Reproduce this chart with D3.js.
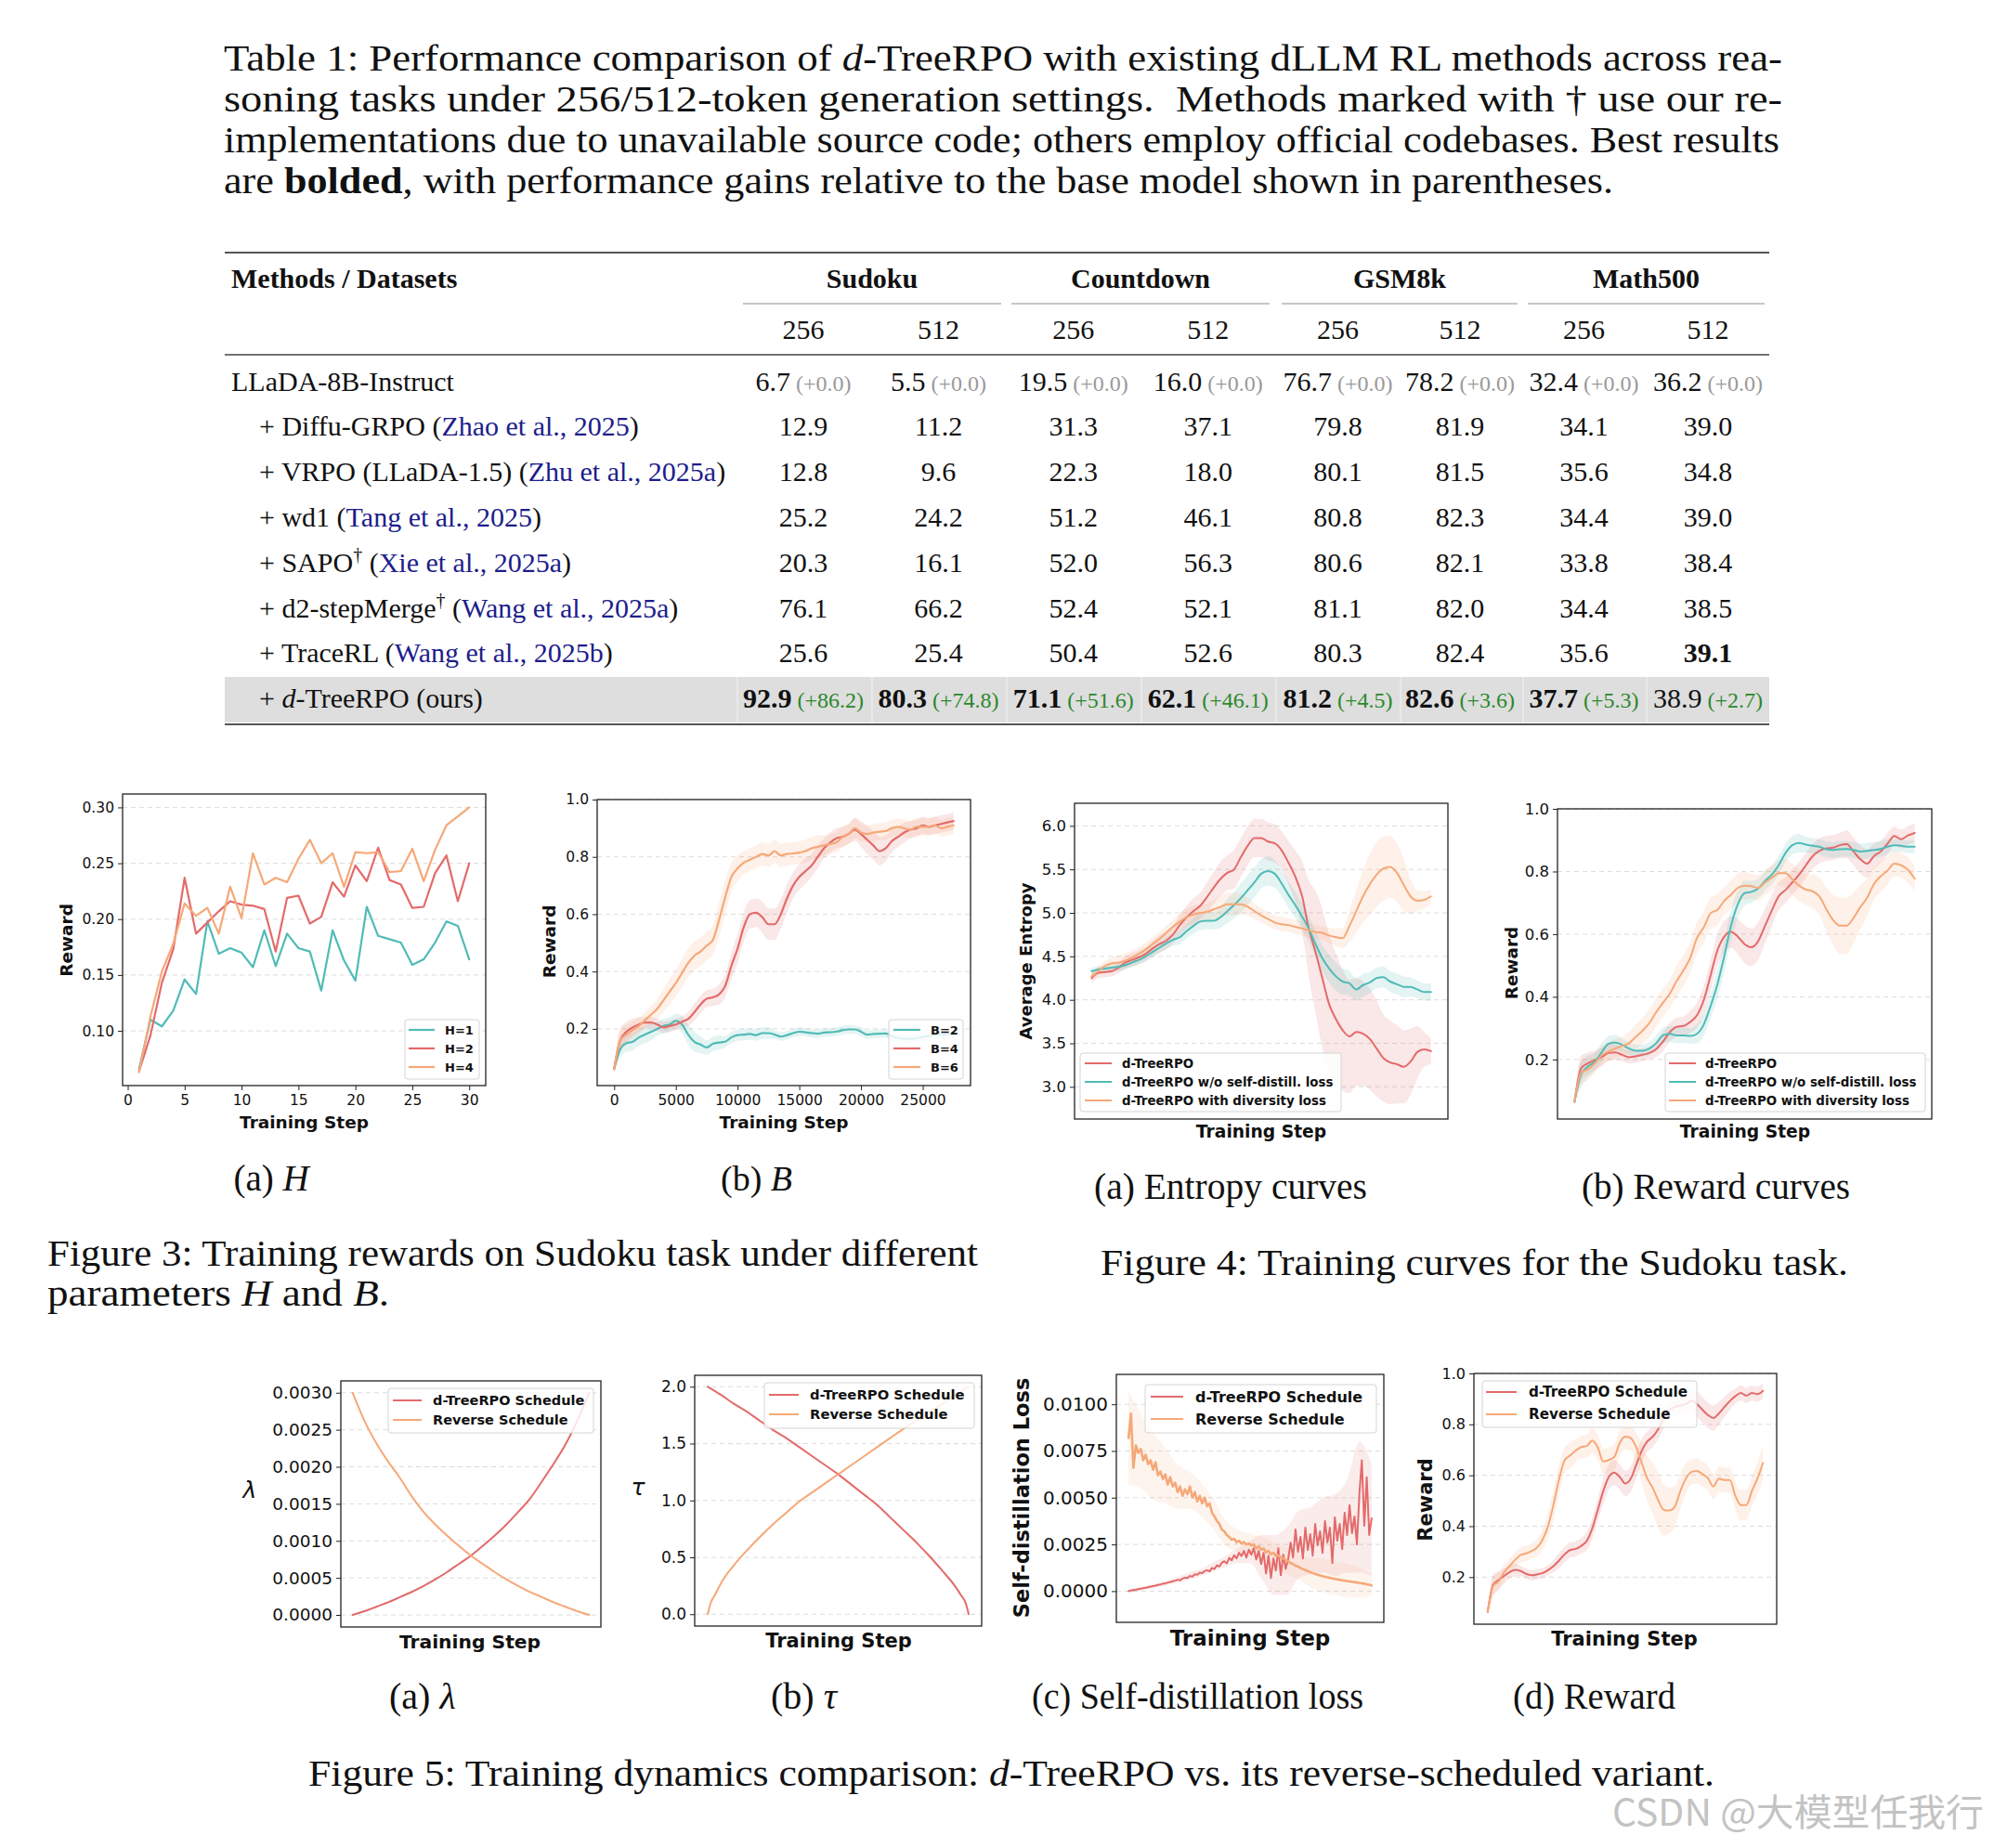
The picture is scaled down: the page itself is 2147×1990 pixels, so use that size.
<!DOCTYPE html>
<html><head><meta charset="utf-8">
<script src="https://cdn.jsdelivr.net/npm/d3@7"></script>
<style>html,body{margin:0;padding:0;background:#fff;} svg{display:block;} text{white-space:pre;}</style>
</head><body>
<svg id="page" width="2147" height="1990" xmlns="http://www.w3.org/2000/svg"></svg>
<script>
// ===================== DATA =====================
// ---- Table 1
const datasets = ["Sudoku", "Countdown", "GSM8k", "Math500"];
const genLengths = ["256", "512"];
const methods = ["LLaDA-8B-Instruct", "Diffu-GRPO", "VRPO (LLaDA-1.5)", "wd1", "SAPO", "d2-stepMerge", "TraceRL", "d-TreeRPO (ours)"];
const citations = [null, "Zhao et al., 2025", "Zhu et al., 2025a", "Tang et al., 2025", "Xie et al., 2025a", "Wang et al., 2025a", "Wang et al., 2025b", null];
const daggers = [false, false, false, false, true, true, false, false];
const sudoku256 = [6.7, 12.9, 12.8, 25.2, 20.3, 76.1, 25.6, 92.9];
const sudoku512 = [5.5, 11.2, 9.6, 24.2, 16.1, 66.2, 25.4, 80.3];
const countdown256 = [19.5, 31.3, 22.3, 51.2, 52.0, 52.4, 50.4, 71.1];
const countdown512 = [16.0, 37.1, 18.0, 46.1, 56.3, 52.1, 52.6, 62.1];
const gsm256 = [76.7, 79.8, 80.1, 80.8, 80.6, 81.1, 80.3, 81.2];
const gsm512 = [78.2, 81.9, 81.5, 82.3, 82.1, 82.0, 82.4, 82.6];
const math256 = [32.4, 34.1, 35.6, 34.4, 33.8, 34.4, 35.6, 37.7];
const math512 = [36.2, 39.0, 34.8, 39.0, 38.4, 38.5, 39.1, 38.9];
const baseGains = ["+0.0", "+0.0", "+0.0", "+0.0", "+0.0", "+0.0", "+0.0", "+0.0"];
const oursGains = ["+86.2", "+74.8", "+51.6", "+46.1", "+4.5", "+3.6", "+5.3", "+2.7"];

// ---- Figure 3a (H)
const stepsH = d3.range(1, 31);
const rewardH1 = [0.066,0.110,0.104,0.118,0.146,0.133,0.198,0.169,0.174,0.170,0.157,0.190,0.158,0.187,0.174,0.171,0.136,0.190,0.163,0.145,0.211,0.185,0.182,0.179,0.159,0.164,0.179,0.198,0.194,0.164];
const rewardH2 = [0.064,0.096,0.143,0.173,0.237,0.187,0.197,0.207,0.216,0.213,0.212,0.209,0.171,0.219,0.221,0.196,0.202,0.233,0.220,0.248,0.234,0.264,0.235,0.231,0.210,0.211,0.241,0.257,0.216,0.250];
const rewardH4 = [0.063,0.113,0.153,0.178,0.214,0.203,0.210,0.187,0.229,0.201,0.259,0.231,0.237,0.233,0.254,0.271,0.250,0.259,0.229,0.260,0.259,0.260,0.242,0.243,0.263,0.234,0.262,0.284,0.292,0.300];
const ticksH_y = [0.10, 0.15, 0.20, 0.25, 0.30];
const ticksH_x = [0, 5, 10, 15, 20, 25, 30];
const legendH = ["H=1", "H=2", "H=4"];

// ---- Figure 3b (B)
const stepsB = d3.range(0, 27501, 500);
const rewardB2 = [0.06,0.13,0.15,0.155,0.17,0.18,0.19,0.20,0.21,0.215,
  0.228,0.215,0.18,0.155,0.145,0.135,0.148,0.152,0.155,0.17,
  0.178,0.18,0.182,0.178,0.185,0.185,0.18,0.173,0.178,0.185,
  0.19,0.188,0.185,0.183,0.187,0.188,0.19,0.195,0.198,0.198,
  0.19,0.18,0.182,0.183,0.184,0.175,0.168,0.165,0.165,0.168,
  0.172,0.175,0.178,0.18,0.18,0.182];
const spreadB2 = [0.01,0.03,0.03,0.03,0.03,0.03,0.03,0.025,0.025,0.025,
  0.025,0.03,0.035,0.035,0.03,0.025,0.025,0.025,0.02,0.02,
  0.02,0.02,0.02,0.02,0.02,0.02,0.015,0.015,0.015,0.015,
  0.015,0.015,0.015,0.015,0.015,0.015,0.015,0.015,0.015,0.015,
  0.015,0.015,0.015,0.015,0.015,0.015,0.015,0.015,0.015,0.015,
  0.015,0.015,0.015,0.015,0.015,0.015];
const rewardB4 = [0.06,0.16,0.19,0.205,0.215,0.222,0.222,0.215,0.205,0.21,
  0.215,0.225,0.235,0.258,0.285,0.305,0.31,0.32,0.35,0.42,
  0.48,0.555,0.6,0.605,0.59,0.565,0.565,0.6,0.655,0.7,
  0.73,0.75,0.77,0.8,0.83,0.85,0.865,0.87,0.88,0.895,
  0.88,0.86,0.84,0.82,0.83,0.855,0.87,0.885,0.895,0.9,
  0.91,0.905,0.91,0.915,0.92,0.925];
const spreadB4 = [0.01,0.04,0.035,0.03,0.025,0.02,0.02,0.02,0.02,0.02,
  0.02,0.02,0.025,0.03,0.03,0.03,0.03,0.035,0.04,0.045,
  0.05,0.05,0.05,0.05,0.055,0.055,0.055,0.05,0.05,0.045,
  0.045,0.045,0.04,0.04,0.035,0.035,0.035,0.035,0.035,0.04,
  0.045,0.05,0.05,0.05,0.045,0.04,0.035,0.035,0.03,0.03,
  0.03,0.03,0.03,0.03,0.03,0.03];
const rewardB6 = [0.06,0.16,0.18,0.195,0.21,0.23,0.25,0.27,0.30,0.33,
  0.36,0.395,0.43,0.455,0.47,0.49,0.51,0.58,0.66,0.73,
  0.76,0.78,0.79,0.80,0.81,0.805,0.82,0.805,0.81,0.812,
  0.815,0.82,0.83,0.835,0.84,0.845,0.85,0.87,0.88,0.9,
  0.885,0.88,0.885,0.888,0.89,0.9,0.905,0.9,0.895,0.905,
  0.905,0.905,0.91,0.9,0.905,0.91];
const spreadB6 = [0.01,0.04,0.035,0.03,0.03,0.03,0.03,0.035,0.04,0.045,
  0.045,0.05,0.05,0.05,0.05,0.05,0.05,0.06,0.06,0.05,
  0.045,0.04,0.04,0.04,0.04,0.04,0.04,0.04,0.04,0.04,
  0.04,0.04,0.04,0.04,0.035,0.035,0.035,0.035,0.035,0.035,
  0.03,0.03,0.03,0.03,0.03,0.03,0.03,0.03,0.03,0.03,
  0.03,0.03,0.03,0.03,0.03,0.03];
const ticksB_y = [0.2, 0.4, 0.6, 0.8, 1.0];
const ticksB_x = [0, 5000, 10000, 15000, 20000, 25000];
const legendB = ["B=2", "B=4", "B=6"];

// ---- Figure 4 (normalized training step 0..100)
const steps4 = d3.range(0, 101, 2);
const legend4 = ["d-TreeRPO", "d-TreeRPO w/o self-distill. loss", "d-TreeRPO with diversity loss"];
const entropyTree = [4.25,4.31,4.32,4.33,4.37,4.43,4.46,4.49,4.53,4.59,
  4.64,4.68,4.75,4.86,4.95,5.02,5.08,5.18,5.29,5.39,
  5.46,5.50,5.64,5.77,5.86,5.86,5.82,5.80,5.72,5.58,
  5.42,5.20,4.82,4.55,4.25,3.95,3.78,3.65,3.58,3.63,
  3.61,3.55,3.44,3.33,3.28,3.26,3.23,3.29,3.40,3.43,
  3.41];
const entropyTreeSd = [0.06,0.06,0.06,0.06,0.06,0.07,0.08,0.08,0.08,0.09,
  0.1,0.1,0.1,0.12,0.13,0.15,0.15,0.17,0.18,0.2,
  0.2,0.22,0.22,0.22,0.22,0.22,0.22,0.22,0.22,0.25,
  0.3,0.4,0.55,0.7,0.8,0.8,0.75,0.7,0.65,0.62,
  0.6,0.58,0.55,0.5,0.48,0.45,0.42,0.38,0.3,0.2,
  0.15];
const entropyNoSD = [4.33,4.35,4.36,4.37,4.38,4.40,4.43,4.46,4.50,4.55,
  4.60,4.65,4.69,4.72,4.79,4.85,4.90,4.91,4.91,4.95,
  5.02,5.09,5.17,5.26,5.35,5.45,5.48,5.45,5.34,5.21,
  5.09,4.96,4.82,4.64,4.48,4.36,4.27,4.21,4.19,4.12,
  4.17,4.20,4.25,4.26,4.21,4.18,4.15,4.15,4.12,4.09,
  4.09];
const entropyNoSDSd = [0.04,0.04,0.04,0.04,0.05,0.05,0.05,0.05,0.06,0.06,
  0.06,0.07,0.07,0.08,0.08,0.09,0.1,0.1,0.1,0.12,
  0.14,0.15,0.17,0.17,0.17,0.17,0.17,0.16,0.15,0.15,
  0.15,0.15,0.15,0.15,0.15,0.16,0.16,0.15,0.14,0.13,
  0.13,0.12,0.12,0.12,0.12,0.12,0.12,0.11,0.1,0.1,
  0.1];
const entropyDiv = [4.27,4.33,4.39,4.42,4.43,4.45,4.49,4.53,4.58,4.64,
  4.70,4.77,4.84,4.90,4.95,4.98,5.00,5.01,5.04,5.07,
  5.10,5.10,5.10,5.07,5.02,4.97,4.93,4.89,4.87,4.86,
  4.84,4.82,4.80,4.78,4.77,4.74,4.72,4.71,4.85,5.02,
  5.19,5.33,5.44,5.51,5.53,5.46,5.32,5.19,5.14,5.15,
  5.19];
const entropyDivSd = [0.04,0.05,0.06,0.07,0.08,0.08,0.08,0.08,0.08,0.08,
  0.08,0.08,0.08,0.1,0.1,0.1,0.1,0.1,0.11,0.12,
  0.13,0.13,0.12,0.1,0.09,0.08,0.08,0.08,0.08,0.08,
  0.08,0.08,0.08,0.08,0.08,0.09,0.1,0.12,0.18,0.25,
  0.3,0.35,0.37,0.37,0.36,0.34,0.3,0.2,0.12,0.1,
  0.08];
const ticksEnt = [3.0, 3.5, 4.0, 4.5, 5.0, 5.5, 6.0];

const rewardTree = [0.065,0.173,0.188,0.198,0.208,0.221,0.223,0.215,0.207,0.21,
  0.215,0.221,0.233,0.257,0.287,0.304,0.307,0.32,0.341,0.39,
  0.469,0.548,0.592,0.607,0.592,0.568,0.558,0.578,0.627,0.676,
  0.721,0.741,0.765,0.79,0.82,0.849,0.866,0.874,0.876,0.884,
  0.887,0.864,0.839,0.825,0.849,0.864,0.889,0.913,0.903,0.915,
  0.923];
const rewardTreeSd = [0.01,0.04,0.035,0.03,0.03,0.025,0.025,0.02,0.02,0.02,
  0.02,0.02,0.025,0.03,0.03,0.03,0.03,0.035,0.04,0.045,
  0.05,0.05,0.05,0.05,0.055,0.06,0.06,0.06,0.055,0.05,
  0.045,0.04,0.04,0.04,0.04,0.04,0.04,0.04,0.04,0.04,
  0.045,0.045,0.045,0.045,0.04,0.035,0.035,0.03,0.03,0.03,
  0.03];
const rewardNoSD = [0.065,0.154,0.178,0.193,0.223,0.25,0.254,0.247,0.235,0.228,
  0.228,0.235,0.252,0.277,0.282,0.277,0.277,0.275,0.282,0.312,
  0.371,0.44,0.529,0.627,0.696,0.731,0.735,0.746,0.77,0.79,
  0.82,0.859,0.884,0.891,0.886,0.882,0.879,0.871,0.869,0.871,
  0.872,0.869,0.864,0.866,0.869,0.872,0.879,0.884,0.882,0.879,
  0.879];
const rewardNoSDSd = [0.01,0.04,0.035,0.03,0.03,0.025,0.025,0.02,0.02,0.02,
  0.02,0.02,0.025,0.025,0.025,0.025,0.025,0.025,0.03,0.035,
  0.04,0.045,0.05,0.05,0.045,0.04,0.035,0.03,0.03,0.03,
  0.03,0.03,0.03,0.03,0.025,0.025,0.025,0.025,0.025,0.025,
  0.025,0.025,0.025,0.025,0.025,0.025,0.025,0.02,0.02,0.02,
  0.02];
const rewardDiv = [0.065,0.159,0.169,0.188,0.213,0.225,0.235,0.243,0.252,0.272,
  0.292,0.316,0.351,0.381,0.41,0.45,0.484,0.524,0.588,0.622,
  0.667,0.678,0.706,0.726,0.748,0.755,0.753,0.748,0.765,0.78,
  0.795,0.795,0.775,0.755,0.742,0.737,0.72,0.68,0.645,0.627,
  0.627,0.652,0.686,0.716,0.76,0.785,0.803,0.825,0.82,0.805,
  0.777];
const rewardDivSd = [0.01,0.04,0.035,0.03,0.03,0.03,0.03,0.03,0.035,0.04,
  0.04,0.045,0.045,0.045,0.045,0.05,0.05,0.05,0.05,0.05,
  0.05,0.05,0.045,0.045,0.045,0.045,0.04,0.04,0.04,0.04,
  0.04,0.045,0.05,0.05,0.05,0.055,0.06,0.07,0.08,0.09,
  0.09,0.08,0.07,0.06,0.05,0.05,0.045,0.04,0.04,0.04,
  0.04];
const ticksReward = [0.2, 0.4, 0.6, 0.8, 1.0];

// ---- Figure 5
const legend5 = ["d-TreeRPO Schedule", "Reverse Schedule"];
const tLam = d3.range(21).map(i => i / 20);
const lambdaTree = [0,0.00005,0.00011,0.00017,0.00024,0.00031,0.00039,0.00048,0.00058,0.00069,0.00080,0.00093,0.00107,0.00122,0.00139,0.00157,0.00180,0.00204,0.00230,0.00262,0.00300];
const lambdaRev = [0.00300,0.00262,0.00232,0.00207,0.00185,0.00160,0.00139,0.00122,0.00107,0.00093,0.00080,0.00069,0.00058,0.00048,0.00039,0.00031,0.00024,0.00017,0.00011,0.00005,0];
const ticksLam = [0, 0.0005, 0.0010, 0.0015, 0.0020, 0.0025, 0.0030];

const tTau = [0,0.05,0.1,0.15,0.2,0.25,0.3,0.35,0.4,0.45,0.5,0.55,0.6,0.65,0.7,0.75,0.8,0.85,0.9,0.95,0.97,0.99,1.0];
const tauTree = [2.00,1.93,1.85,1.78,1.70,1.62,1.55,1.47,1.39,1.31,1.23,1.14,1.05,0.96,0.85,0.74,0.63,0.51,0.38,0.24,0.17,0.09,0.00];
const tTauRev = [0,0.01,0.03,0.05,0.1,0.15,0.2,0.25,0.3,0.35,0.4,0.45,0.5,0.55,0.6,0.65,0.7,0.75,0.8,0.85,0.9,0.95,1.0];
const tauRev = [0.00,0.09,0.18,0.27,0.43,0.56,0.68,0.79,0.89,0.99,1.07,1.15,1.23,1.31,1.39,1.47,1.55,1.63,1.70,1.78,1.85,1.93,2.00];
const ticksTau = [0.0, 0.5, 1.0, 1.5, 2.0];

const tLoss = d3.range(100).map(i => i / 99);
const lossTree = [0.00000,0.00003,0.00006,0.00008,0.00011,0.00013,0.00016,0.00018,0.00021,0.00024,
  0.00027,0.00029,0.00033,0.00035,0.00040,0.00041,0.00046,0.00049,0.00053,0.00056,
  0.00061,0.00058,0.00067,0.00072,0.00070,0.00081,0.00078,0.00090,0.00088,0.00099,
  0.00096,0.00108,0.00112,0.00106,0.00124,0.00119,0.00138,0.00132,0.00152,0.00160,
  0.00148,0.00178,0.00165,0.00192,0.00175,0.00205,0.00188,0.00215,0.00180,0.00222,
  0.00195,0.00230,0.00170,0.00215,0.00145,0.00205,0.00095,0.00190,0.00070,0.00175,
  0.00110,0.00230,0.00085,0.00195,0.00120,0.00170,0.00260,0.00180,0.00330,0.00210,
  0.00290,0.00175,0.00340,0.00220,0.00305,0.00190,0.00360,0.00245,0.00320,0.00205,
  0.00375,0.00260,0.00340,0.00150,0.00395,0.00270,0.00360,0.00225,0.00420,0.00300,
  0.00460,0.00310,0.00400,0.00250,0.00520,0.00700,0.00350,0.00610,0.00300,0.00390];
const lossRev = [0.00820,0.00950,0.00660,0.00780,0.00740,0.00760,0.00700,0.00730,0.00680,0.00700,
  0.00650,0.00690,0.00620,0.00640,0.00600,0.00625,0.00570,0.00610,0.00560,0.00580,
  0.00530,0.00560,0.00510,0.00545,0.00520,0.00560,0.00500,0.00530,0.00480,0.00510,
  0.00470,0.00500,0.00455,0.00470,0.00420,0.00400,0.00375,0.00360,0.00330,0.00320,
  0.00300,0.00290,0.00275,0.00280,0.00262,0.00270,0.00255,0.00262,0.00250,0.00255,
  0.00245,0.00250,0.00230,0.00240,0.00222,0.00228,0.00208,0.00215,0.00198,0.00205,
  0.00188,0.00192,0.00180,0.00176,0.00166,0.00160,0.00150,0.00145,0.00136,0.00132,
  0.00124,0.00118,0.00112,0.00108,0.00101,0.00097,0.00092,0.00088,0.00084,0.00080,
  0.00077,0.00074,0.00071,0.00068,0.00066,0.00063,0.00061,0.00058,0.00056,0.00054,
  0.00052,0.00050,0.00048,0.00046,0.00044,0.00042,0.00040,0.00037,0.00034,0.00031];
const tLossBand = d3.range(21).map(i => i / 20);
const lossTreeBandMid = [0,0.00013,0.00027,0.00041,0.0006,0.0008,0.001,0.0013,0.0016,0.0019,0.0021,0.0018,0.0014,0.0016,0.0025,0.0027,0.003,0.003,0.0035,0.0045,0.0038];
const lossTreeBandSd = [0.0001,0.0001,0.0001,0.00012,0.00015,0.0002,0.0002,0.00025,0.0003,0.0004,0.0006,0.0012,0.0016,0.0018,0.0018,0.0018,0.002,0.0022,0.0025,0.0035,0.003];
const lossRevBandMid = [0.0082,0.0075,0.0067,0.0062,0.0056,0.0054,0.0049,0.0041,0.0031,0.0027,0.0025,0.0023,0.0019,0.0016,0.0013,0.001,0.00085,0.0007,0.00057,0.00045,0.00032];
const lossRevBandSd = [0.0025,0.002,0.0018,0.0015,0.0012,0.001,0.0009,0.0008,0.0007,0.0006,0.0006,0.0006,0.0007,0.0007,0.0007,0.0008,0.0009,0.0009,0.0009,0.0008,0.0006];
const ticksLoss = [0, 0.0025, 0.0050, 0.0075, 0.0100];

const reward5Tree = [0.063,0.17,0.189,0.205,0.22,0.228,0.224,0.213,0.207,0.211,
  0.216,0.228,0.244,0.266,0.29,0.307,0.311,0.323,0.342,0.391,
  0.464,0.538,0.593,0.611,0.593,0.568,0.587,0.642,0.697,0.733,
  0.752,0.782,0.825,0.856,0.868,0.874,0.88,0.892,0.88,0.858,
  0.837,0.825,0.843,0.868,0.892,0.911,0.923,0.913,0.923,0.919,
  0.932];
const reward5TreeSd = [0.01,0.04,0.035,0.03,0.025,0.025,0.02,0.02,0.02,0.02,
  0.02,0.02,0.025,0.03,0.03,0.03,0.03,0.03,0.035,0.04,
  0.045,0.05,0.05,0.05,0.05,0.05,0.05,0.05,0.045,0.04,
  0.04,0.04,0.04,0.04,0.04,0.04,0.04,0.045,0.05,0.05,
  0.05,0.05,0.045,0.04,0.035,0.03,0.03,0.03,0.03,0.03,
  0.03];
const reward5Rev = [0.063,0.165,0.183,0.22,0.244,0.268,0.287,0.293,0.303,0.317,
  0.348,0.403,0.489,0.587,0.66,0.678,0.697,0.711,0.715,0.736,
  0.709,0.654,0.66,0.672,0.727,0.752,0.746,0.709,0.648,0.587,
  0.55,0.501,0.464,0.462,0.477,0.538,0.587,0.613,0.617,0.605,
  0.589,0.556,0.587,0.581,0.581,0.519,0.483,0.483,0.538,0.587,
  0.648];
const reward5RevSd = [0.01,0.04,0.035,0.03,0.03,0.03,0.03,0.03,0.03,0.035,
  0.04,0.05,0.06,0.06,0.05,0.05,0.045,0.045,0.045,0.05,
  0.05,0.05,0.05,0.05,0.05,0.05,0.05,0.06,0.08,0.09,
  0.1,0.11,0.1,0.09,0.08,0.07,0.06,0.05,0.05,0.05,
  0.05,0.05,0.05,0.05,0.05,0.055,0.06,0.06,0.06,0.065,
  0.07];

// ===================== STYLE / HELPERS =====================
const SERIF = "'Liberation Serif', 'DejaVu Serif', serif";
const SANS = "'DejaVu Sans', sans-serif";
const TEAL = "#50bbb6", RED = "#e36a6a", ORANGE = "#f6a878";
const svg = d3.select("#page");
svg.append("rect").attr("width", 2147).attr("height", 1990).attr("fill", "#fff");

function textLine(parts, x, y, len, size, anchor) {
  const t = svg.append("text").attr("x", x).attr("y", y)
    .attr("font-family", SERIF).attr("font-size", size).attr("fill", "#111");
  if (anchor) t.attr("text-anchor", anchor);
  if (len) t.attr("textLength", len).attr("lengthAdjust", "spacingAndGlyphs");
  parts.forEach(p => {
    const s = t.append("tspan").text(p.t);
    if (p.i) s.attr("font-style", "italic");
    if (p.b) s.attr("font-weight", "bold");
  });
  return t;
}

// ===================== TABLE CAPTION =====================
textLine([{t:"Table 1: Performance comparison of "},{t:"d",i:1},{t:"-TreeRPO with existing dLLM RL methods across rea-"}], 241, 76, 1678, 40);
textLine([{t:"soning tasks under 256/512-token generation settings.  Methods marked with \u2020 use our re-"}], 241, 120, 1678, 40);
textLine([{t:"implementations due to unavailable source code; others employ official codebases. Best results"}], 241, 164, 1675, 40);
textLine([{t:"are "},{t:"bolded",b:1},{t:", with performance gains relative to the base model shown in parentheses."}], 241, 208, 1496, 40);

// ===================== TABLE =====================
(function drawTable() {
  const g = svg.append("g").attr("font-family", SERIF).attr("fill", "#111");
  const colX = [865, 1010.5, 1155.7, 1300.8, 1440.5, 1572, 1705.5, 1839];
  const groupRules = [[800, 1078], [1089, 1367], [1380, 1634], [1645, 1900]];
  const rowY = r => 420.5 + r * 48.8;
  const columns = [sudoku256, sudoku512, countdown256, countdown512, gsm256, gsm512, math256, math512];
  const fmt = d3.format(".1f");

  g.append("rect").attr("x", 242).attr("y", 729).attr("width", 1663).attr("height", 49).attr("fill", "#dedede");
  [794, 939, 1084, 1229, 1374, 1508, 1640, 1773].forEach(xx =>
    g.append("line").attr("x1", xx).attr("x2", xx).attr("y1", 729).attr("y2", 778).attr("stroke", "#ececec").attr("stroke-width", 1.5));

  g.append("line").attr("x1", 242).attr("x2", 1905).attr("y1", 272).attr("y2", 272).attr("stroke", "#555").attr("stroke-width", 2);
  g.append("line").attr("x1", 242).attr("x2", 1905).attr("y1", 382).attr("y2", 382).attr("stroke", "#444").attr("stroke-width", 1.3);
  g.append("line").attr("x1", 242).attr("x2", 1905).attr("y1", 780).attr("y2", 780).attr("stroke", "#555").attr("stroke-width", 2);
  groupRules.forEach(r => g.append("line").attr("x1", r[0]).attr("x2", r[1]).attr("y1", 327).attr("y2", 327).attr("stroke", "#b5b5b5").attr("stroke-width", 1.6));

  g.append("text").attr("x", 249).attr("y", 310).attr("font-size", 30).attr("font-weight", "bold").text("Methods / Datasets");
  datasets.forEach((d, i) => g.append("text").attr("x", (groupRules[i][0] + groupRules[i][1]) / 2).attr("y", 310)
    .attr("text-anchor", "middle").attr("font-size", 30).attr("font-weight", "bold").text(d));
  colX.forEach((x, i) => g.append("text").attr("x", x).attr("y", 365).attr("text-anchor", "middle")
    .attr("font-size", 30).text(genLengths[i % 2]));

  methods.forEach((m, r) => {
    const t = g.append("text").attr("x", r === 0 ? 249 : 279).attr("y", rowY(r)).attr("font-size", 30);
    if (r === 0) { t.text(m); return; }
    t.append("tspan").text("+ ");
    if (m.startsWith("d-")) {
      t.append("tspan").attr("font-style", "italic").text("d");
      t.append("tspan").text(m.slice(1));
    } else {
      t.append("tspan").text(m);
    }
    let shift = false;
    if (daggers[r]) {
      t.append("tspan").attr("dy", -12).attr("font-size", 20).text("\u2020");
      shift = true;
    }
    if (citations[r]) {
      t.append("tspan").attr("dy", shift ? 12 : null).text(" (");
      t.append("tspan").attr("fill", "#1d1d8c").text(citations[r]);
      t.append("tspan").text(")");
    }
  });

  columns.forEach((col, c) => {
    const best = d3.max(col);
    col.forEach((v, r) => {
      const t = g.append("text").attr("x", colX[c]).attr("y", rowY(r)).attr("text-anchor", "middle").attr("font-size", 30);
      t.append("tspan").attr("font-weight", v === best ? "bold" : null).text(fmt(v));
      if (r === 0) t.append("tspan").attr("font-size", 24).attr("fill", "#999").text(" (" + baseGains[c] + ")");
      if (r === methods.length - 1) t.append("tspan").attr("font-size", 24).attr("fill", "#2b882b").text(" (" + oursGains[c] + ")");
    });
  });
})();

// ===================== CHART HELPER =====================
let clipCounter = 0;
function plot(o) {
  const g = svg.append("g");
  const x = d3.scaleLinear().domain(o.xd).range([o.L, o.R]);
  const y = d3.scaleLinear().domain(o.yd).range([o.B, o.T]);
  const cid = "clip" + (clipCounter++);
  svg.append("clipPath").attr("id", cid).append("rect")
    .attr("x", o.L).attr("y", o.T).attr("width", o.R - o.L).attr("height", o.B - o.T);
  g.append("g").selectAll("line").data(o.yt).join("line")
    .attr("x1", o.L).attr("x2", o.R).attr("y1", d => y(d)).attr("y2", d => y(d))
    .attr("stroke", "#dcdcdc").attr("stroke-width", 1).attr("stroke-dasharray", "5,4");
  const inner = g.append("g").attr("clip-path", `url(#${cid})`);
  const curve = o.curve || d3.curveMonotoneX;
  o.series.forEach(s => {
    const bx = s.bx || s.x, by = s.by || s.y, bs = s.bs || s.sd;
    if (!bs) return;
    const pts = by.map((v, i) => [bx[i], v, bs[i]]);
    inner.append("path").datum(pts)
      .attr("d", d3.area().x(d => x(d[0])).y0(d => y(d[1] - d[2])).y1(d => y(d[1] + d[2])).curve(d3.curveMonotoneX))
      .attr("fill", s.c).attr("fill-opacity", s.bo || 0.16).attr("stroke", "none");
  });
  o.series.forEach(s => {
    const pts = s.y.map((v, i) => [s.x[i], v]);
    inner.append("path").datum(pts)
      .attr("d", d3.line().x(d => x(d[0])).y(d => y(d[1])).curve(s.curve || curve))
      .attr("fill", "none").attr("stroke", s.c).attr("stroke-width", s.lw || o.lw || 2.2)
      .attr("stroke-linejoin", "round").attr("stroke-linecap", "round");
  });
  const ya = g.append("g").attr("transform", `translate(${o.L},0)`)
    .call(d3.axisLeft(y).tickValues(o.yt).tickFormat(o.yf).tickSize(5).tickPadding(4));
  ya.attr("font-family", SANS).attr("font-size", o.fs);
  ya.select(".domain").remove();
  ya.selectAll("line").attr("stroke", "#222");
  ya.selectAll("text").attr("fill", "#111");
  if (o.xt) {
    const xa = g.append("g").attr("transform", `translate(0,${o.B})`)
      .call(d3.axisBottom(x).tickValues(o.xt).tickFormat(o.xf).tickSize(5).tickPadding(5));
    xa.attr("font-family", SANS).attr("font-size", o.fs);
    xa.select(".domain").remove();
    xa.selectAll("line").attr("stroke", "#222");
    xa.selectAll("text").attr("fill", "#111");
  }
  g.append("rect").attr("x", o.L).attr("y", o.T).attr("width", o.R - o.L).attr("height", o.B - o.T)
    .attr("fill", "none").attr("stroke", "#222").attr("stroke-width", 1.3);
  if (o.leg) {
    const l = o.leg;
    const lg = g.append("g");
    lg.append("rect").attr("x", l.x).attr("y", l.y).attr("width", l.w).attr("height", l.h).attr("rx", 3)
      .attr("fill", "#fff").attr("fill-opacity", 0.82).attr("stroke", "#d4d4d4").attr("stroke-width", 1);
    l.labels.forEach((lab, i) => {
      const yy = l.rows[i];
      lg.append("line").attr("x1", l.lx0).attr("x2", l.lx1).attr("y1", yy).attr("y2", yy)
        .attr("stroke", o.series[i].c).attr("stroke-width", o.lw || 2.2);
      lg.append("text").attr("x", l.tx).attr("y", yy).attr("dy", "0.36em")
        .attr("font-family", SANS).attr("font-weight", "bold").attr("font-size", l.fs).attr("fill", "#111").text(lab);
    });
  }
  if (o.xl) svg.append("text").attr("x", o.xl.x).attr("y", o.xl.y).attr("text-anchor", "middle")
    .attr("font-family", SANS).attr("font-weight", "bold").attr("font-size", o.xl.fs).attr("fill", "#111").text(o.xl.t);
  if (o.yl) {
    const t = svg.append("text").attr("text-anchor", "middle").attr("fill", "#111").text(o.yl.t)
      .attr("font-size", o.yl.fs);
    if (o.yl.upright) {
      t.attr("x", o.yl.x).attr("y", o.yl.y).attr("font-family", SANS).attr("font-style", "italic");
    } else {
      t.attr("transform", `translate(${o.yl.x},${o.yl.y}) rotate(-90)`).attr("font-family", SANS).attr("font-weight", "bold");
    }
  }
}

// ===================== FIGURE 3 =====================
plot({L:132, R:523, T:855, B:1169, xd:[-0.45, 31.45], yd:[0.051, 0.312],
  yt:ticksH_y, yf:d3.format(".2f"), xt:ticksH_x, xf:d3.format("d"), fs:15.5, lw:2.2, curve:d3.curveLinear,
  series:[{x:stepsH, y:rewardH1, c:TEAL}, {x:stepsH, y:rewardH2, c:RED}, {x:stepsH, y:rewardH4, c:ORANGE}],
  leg:{x:436, y:1098, w:80, h:64, rows:[1109, 1129, 1149], lx0:440, lx1:468, tx:479, fs:13, labels:legendH},
  xl:{t:"Training Step", x:327.5, y:1215, fs:18.5}, yl:{t:"Reward", x:78, y:1012.5, fs:18.5}});

plot({L:643, R:1045, T:861, B:1169, xd:[-1375, 28875], yd:[0.002, 1.0],
  yt:ticksB_y, yf:d3.format(".1f"), xt:ticksB_x, xf:d3.format("d"), fs:15.5, lw:2.2,
  series:[{x:stepsB, y:rewardB2, sd:spreadB2, c:TEAL}, {x:stepsB, y:rewardB4, sd:spreadB4, c:RED}, {x:stepsB, y:rewardB6, sd:spreadB6, c:ORANGE}],
  leg:{x:957, y:1098, w:80, h:64, rows:[1109, 1129, 1149], lx0:962, lx1:991, tx:1002, fs:13, labels:legendB},
  xl:{t:"Training Step", x:844, y:1215, fs:18.5}, yl:{t:"Reward", x:598, y:1014, fs:18.5}});

// ===================== FIGURE 4 =====================
plot({L:1157, R:1559, T:865, B:1205, xd:[-5, 105], yd:[2.63, 6.26],
  yt:ticksEnt, yf:d3.format(".1f"), fs:16.5, lw:2,
  series:[{x:steps4, y:entropyTree, sd:entropyTreeSd, c:RED}, {x:steps4, y:entropyNoSD, sd:entropyNoSDSd, c:TEAL}, {x:steps4, y:entropyDiv, sd:entropyDivSd, c:ORANGE}],
  leg:{x:1163, y:1134, w:281, h:63, rows:[1145, 1165, 1185], lx0:1168, lx1:1197, tx:1208, fs:13.4, labels:legend4},
  xl:{t:"Training Step", x:1358, y:1225, fs:18.7}, yl:{t:"Average Entropy", x:1111, y:1035, fs:18}});

plot({L:1677, R:2080, T:871, B:1205, xd:[-5, 105], yd:[0.01, 1.0],
  yt:ticksReward, yf:d3.format(".1f"), fs:16.5, lw:2,
  series:[{x:steps4, y:rewardTree, sd:rewardTreeSd, c:RED}, {x:steps4, y:rewardNoSD, sd:rewardNoSDSd, c:TEAL}, {x:steps4, y:rewardDiv, sd:rewardDivSd, c:ORANGE}],
  leg:{x:1793, y:1134, w:280, h:63, rows:[1145, 1165, 1185], lx0:1797, lx1:1826, tx:1836, fs:13.4, labels:legend4},
  xl:{t:"Training Step", x:1879, y:1225, fs:18.7}, yl:{t:"Reward", x:1634, y:1037, fs:18.4}});

// ===================== FIGURE 5 =====================
plot({L:367, R:647, T:1487, B:1752, xd:[-0.05, 1.05], yd:[-0.000163, 0.00316],
  yt:ticksLam, yf:d3.format(".4f"), fs:18.5, lw:2,
  series:[{x:tLam, y:lambdaTree, c:RED}, {x:tLam, y:lambdaRev, c:ORANGE}],
  leg:{x:418, y:1495, w:221, h:48, rows:[1508, 1529], lx0:423, lx1:454, tx:466, fs:14.5, labels:legend5},
  xl:{t:"Training Step", x:506, y:1775, fs:20.3}, yl:{t:"\u03bb", x:269, y:1613, fs:25, upright:true}});

plot({L:748, R:1057, T:1481, B:1751, xd:[-0.05, 1.05], yd:[-0.104, 2.1],
  yt:ticksTau, yf:d3.format(".1f"), fs:17, lw:2,
  series:[{x:tTau, y:tauTree, c:RED}, {x:tTauRev, y:tauRev, c:ORANGE}],
  leg:{x:823, y:1489, w:226, h:49, rows:[1502, 1523], lx0:828, lx1:860, tx:872, fs:14.8, labels:legend5},
  xl:{t:"Training Step", x:903, y:1774, fs:21}, yl:{t:"\u03c4", x:687, y:1610, fs:25, upright:true}});

plot({L:1202, R:1490, T:1480, B:1747, xd:[-0.05, 1.05], yd:[-0.00167, 0.0116],
  yt:ticksLoss, yf:d3.format(".4f"), fs:20, lw:2, curve:d3.curveLinear,
  series:[{x:tLoss, y:lossTree, c:RED, lw:2, bx:tLossBand, by:lossTreeBandMid, bs:lossTreeBandSd, bo:0.13},
          {x:tLoss, y:lossRev, c:ORANGE, lw:2.6, bx:tLossBand, by:lossRevBandMid, bs:lossRevBandSd, bo:0.13}],
  leg:{x:1233, y:1491, w:249, h:52, rows:[1504, 1528], lx0:1239, lx1:1274, tx:1287, fs:16, labels:legend5},
  xl:{t:"Training Step", x:1346, y:1772, fs:23}, yl:{t:"Self-distillation Loss", x:1108, y:1613, fs:22.5}});

plot({L:1587, R:1913, T:1479, B:1749, xd:[-5, 105], yd:[0.015, 1.0],
  yt:ticksReward, yf:d3.format(".1f"), fs:16, lw:2,
  series:[{x:steps4, y:reward5Tree, sd:reward5TreeSd, c:RED}, {x:steps4, y:reward5Rev, sd:reward5RevSd, c:ORANGE}],
  leg:{x:1596, y:1487, w:231, h:50, rows:[1499, 1523], lx0:1600, lx1:1633, tx:1646, fs:15.2, labels:legend5},
  xl:{t:"Training Step", x:1749, y:1772, fs:21}, yl:{t:"Reward", x:1542, y:1615, fs:21}});

// ===================== SUB-CAPTIONS & CAPTIONS =====================
textLine([{t:"(a) "},{t:"H",i:1}], 251.5, 1282, null, 39);
textLine([{t:"(b) "},{t:"B",i:1}], 776, 1282, null, 38);
textLine([{t:"(a) Entropy curves"}], 1178, 1291, 294, 40);
textLine([{t:"(b) Reward curves"}], 1703, 1291, 289, 40);
textLine([{t:"Figure 3: Training rewards on Sudoku task under different"}], 51, 1363, 1002, 40);
textLine([{t:"parameters "},{t:"H",i:1},{t:" and "},{t:"B",i:1},{t:"."}], 51, 1406, 368, 40);
textLine([{t:"Figure 4: Training curves for the Sudoku task."}], 1185, 1373, 805, 40);
textLine([{t:"(a) "},{t:"\u03bb",i:1}], 419, 1840, null, 40);
textLine([{t:"(b) "},{t:"\u03c4",i:1}], 830, 1840, null, 40);
textLine([{t:"(c) Self-distillation loss"}], 1111, 1840, 357, 40);
textLine([{t:"(d) Reward"}], 1629, 1840, 175, 40);
textLine([{t:"Figure 5: Training dynamics comparison: "},{t:"d",i:1},{t:"-TreeRPO vs. its reverse-scheduled variant."}], 332, 1923, 1514, 40);

svg.append("text").attr("x", 1736).attr("y", 1966).attr("font-family", "'Noto Sans CJK SC', 'Noto Sans', sans-serif")
  .attr("font-size", 40).attr("fill", "#c3c3c3").attr("textLength", 400).attr("lengthAdjust", "spacingAndGlyphs")
  .text("CSDN @\u5927\u6a21\u578b\u4efb\u6211\u884c");
</script>
</body></html>
